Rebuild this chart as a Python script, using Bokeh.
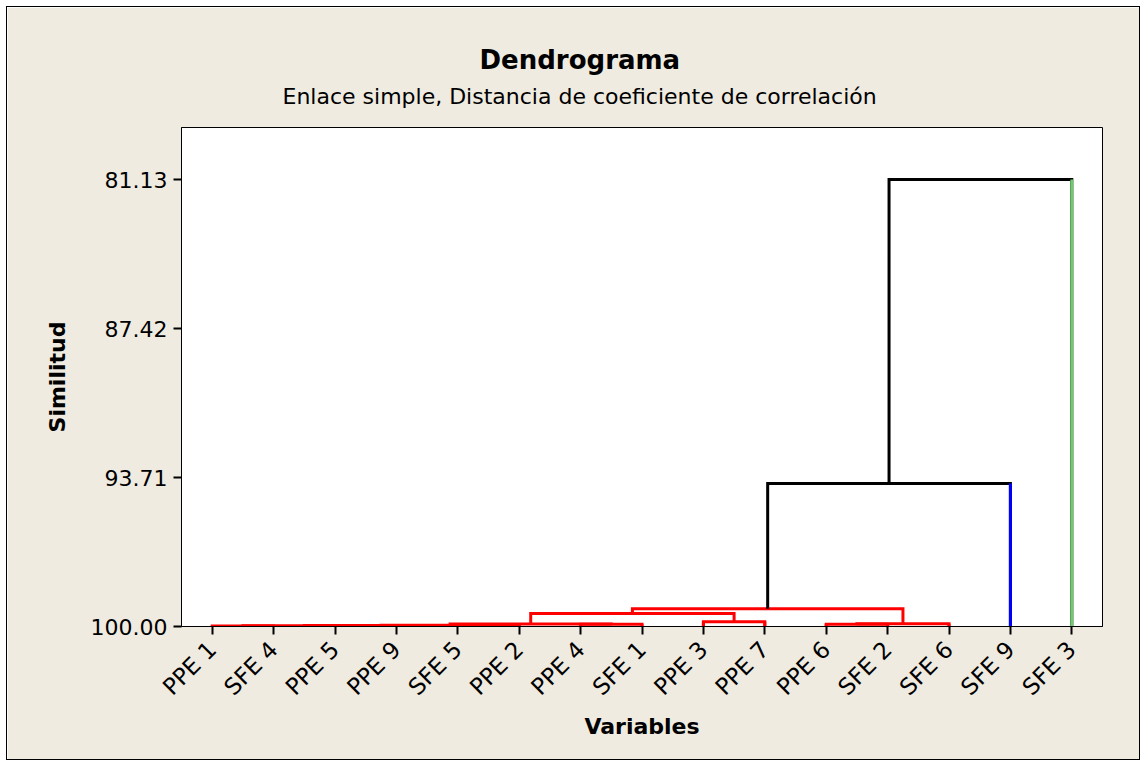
from math import pi
from bokeh.plotting import figure
from bokeh.models import Range1d, FixedTicker, NumeralTickFormatter, Title
from bokeh.embed import file_html
from bokeh.resources import INLINE

# ---- data ----
labels = ["PPE 1", "SFE 4", "PPE 5", "PPE 9", "SFE 5", "PPE 2", "PPE 4", "SFE 1",
          "PPE 3", "PPE 7", "PPE 6", "SFE 2", "SFE 6", "SFE 9", "SFE 3"]
# linkage (ids 0-14 = leaves in plotted order, 15+ = merges in order)
merge_a = [0, 2, 15, 17, 18, 6, 19, 8, 21, 10, 24, 23, 26, 27]
merge_b = [1, 3, 16, 4, 5, 7, 20, 9, 22, 11, 12, 25, 13, 14]
merge_sim = [99.98, 99.98, 99.97, 99.96, 99.95, 99.91, 99.89, 99.80,
             99.45, 99.91, 99.88, 99.25, 93.96, 81.13]
y_ticks = [81.13, 87.42, 93.71, 100.00]
cluster_colors = ["#FF0000", "#0000FF", "#6CCB6C"]   # clusters: red group, SFE 9, SFE 3
leaf_cluster = [0, 0, 0, 0, 0, 0, 0, 0, 0, 0, 0, 0, 0, 1, 2]
cut_similarity = 99.0
title_text = "Dendrograma"
subtitle_text = "Enlace simple, Distancia de coeficiente de correlación"

FONT = "DejaVu Sans"
BG = "#EFEBE0"

n = len(labels)
pos = [float(i + 1) for i in range(n)]
hgt = [100.0] * n
path_xs, path_ys, path_col = [], [], []
leaf_x0, leaf_y0, leaf_y1, leaf_col = [], [], [], []
for a, b, s in zip(merge_a, merge_b, merge_sim):
    col = cluster_colors[0] if s >= cut_similarity else "black"
    path_xs.append([pos[a], pos[a], pos[b], pos[b]])
    path_ys.append([hgt[a], s, s, hgt[b]])
    path_col.append(col)
    for c in (a, b):
        if c < n:
            leaf_x0.append(pos[c]); leaf_y0.append(100.0); leaf_y1.append(s)
            leaf_col.append(cluster_colors[leaf_cluster[c]])
    pos.append((pos[a] + pos[b]) / 2.0)
    hgt.append(s)

p = figure(width=1134, height=754, output_backend="svg", toolbar_location=None,
           x_range=Range1d(0.5, n + 0.5), y_range=Range1d(100.0, 78.93),
           min_border_left=174, min_border_right=39, min_border_top=120,
           min_border_bottom=135, title=None)
p.styles = {"border": "1px solid #000000", "margin-left": "6px", "margin-top": "6px"}
p.background_fill_color = "white"
p.border_fill_color = BG
p.outline_line_color = "black"
p.outline_line_width = 1
p.xgrid.visible = False
p.ygrid.visible = False

p.multi_line(path_xs, path_ys, line_color=path_col, line_width=3, line_join="miter")
p.segment(leaf_x0, leaf_y0, leaf_x0, leaf_y1, line_color=leaf_col, line_width=3)

sub = Title(text=subtitle_text, align="left", offset=101,
            text_font=FONT, text_font_size="22px", text_font_style="normal",
            text_color="black", standoff=38)
p.add_layout(sub, "above")
main = Title(text=title_text, align="left", offset=298, text_font=FONT,
             text_font_size="26px", text_font_style="bold", text_color="black",
             standoff=-24)
p.add_layout(main, "above")

xa = p.xaxis[0]
xa.ticker = FixedTicker(ticks=list(range(1, n + 1)))
xa.major_label_overrides = {i + 1: lab for i, lab in enumerate(labels)}
xa.major_label_orientation = pi / 4
xa.axis_label = "Variables"
ya = p.yaxis[0]
ya.ticker = FixedTicker(ticks=y_ticks)
ya.formatter = NumeralTickFormatter(format="0.00")
ya.axis_label = "Similitud"
for ax in (xa, ya):
    ax.minor_tick_line_color = None
    ax.major_tick_in = 0
    ax.major_tick_out = 8
    ax.major_tick_line_color = "black"
    ax.major_tick_line_width = 2
    ax.axis_line_color = "black"
    ax.major_label_text_font = FONT
    ax.major_label_text_font_size = "22px"
    ax.major_label_text_color = "black"
    ax.axis_label_text_font = FONT
    ax.axis_label_text_font_size = "22px"
    ax.axis_label_text_font_style = "bold"
    ax.axis_label_text_color = "black"
xa.major_label_text_font_size = "23px"
xa.major_label_standoff = 11
ya.major_label_standoff = 6
xa.axis_label_standoff = 2
ya.axis_label_standoff = 18

open("out.html", "w").write(file_html(p, INLINE))
